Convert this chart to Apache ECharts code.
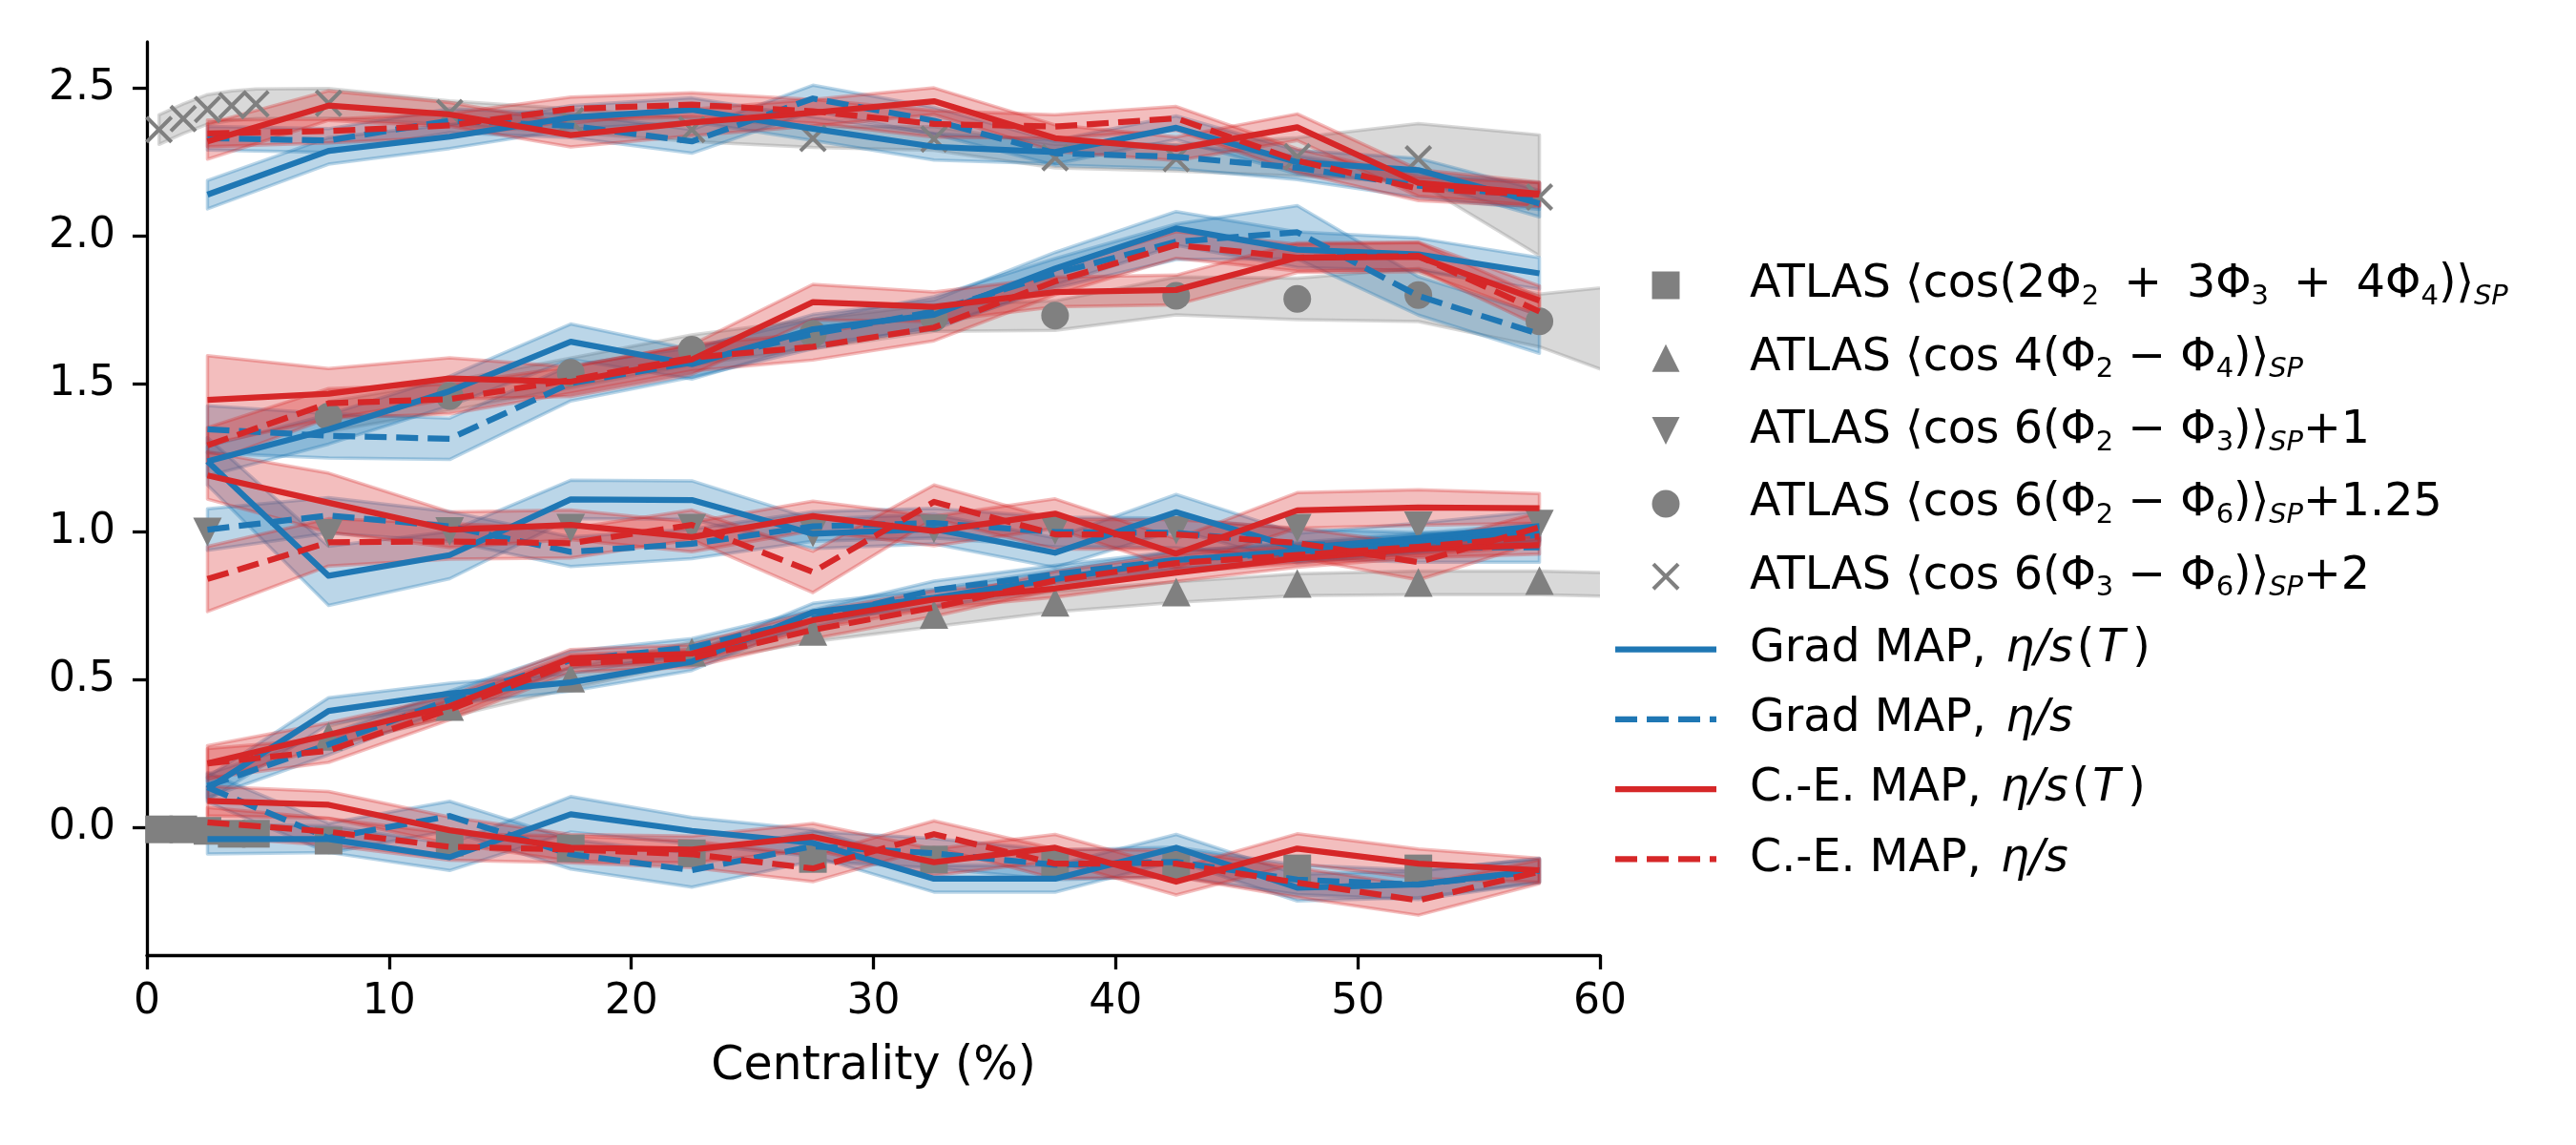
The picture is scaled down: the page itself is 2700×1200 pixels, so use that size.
<!DOCTYPE html>
<html>
<head>
<meta charset="utf-8">
<script src="https://cdn.jsdelivr.net/npm/echarts@6/dist/echarts.min.js"></script>
<style>html,body{margin:0;padding:0;background:#fff}#c{width:2700px;height:1200px}</style>
</head>
<body>
<div id="c"></div>
<script>
// ---------------- DATA ----------------
const centrality = [2.5, 7.5, 12.5, 17.5, 22.5, 27.5, 32.5, 37.5, 42.5, 47.5, 52.5, 57.5];
const xTicks = [0, 10, 20, 30, 40, 50, 60];
const yTicks = [0, 0.5, 1.0, 1.5, 2.0, 2.5];

// <cos6(Phi3-Phi6)> + 2
const gradT_36 = [2.140, 2.288, 2.336, 2.401, 2.427, 2.363, 2.302, 2.284, 2.366, 2.250, 2.223, 2.110];
const gradC_36 = [2.331, 2.323, 2.390, 2.373, 2.320, 2.465, 2.390, 2.280, 2.268, 2.231, 2.170, 2.135];
const ceT_36   = [2.320, 2.441, 2.411, 2.341, 2.384, 2.417, 2.456, 2.331, 2.295, 2.368, 2.180, 2.143];
const ceC_36   = [2.347, 2.355, 2.374, 2.430, 2.444, 2.422, 2.379, 2.370, 2.398, 2.255, 2.160, 2.140];
const gradT_36_err = [0.048, 0.045, 0.04, 0.04, 0.04, 0.04, 0.045, 0.04, 0.04, 0.04, 0.04, 0.045];
const gradC_36_err = [0.04, 0.04, 0.04, 0.04, 0.04, 0.045, 0.045, 0.04, 0.04, 0.04, 0.04, 0.045];
const ceT_36_err   = [0.06, 0.05, 0.04, 0.04, 0.045, 0.045, 0.045, 0.045, 0.04, 0.045, 0.045, 0.04];
const ceC_36_err   = [0.045, 0.04, 0.04, 0.04, 0.04, 0.04, 0.045, 0.04, 0.04, 0.04, 0.04, 0.04];

// <cos6(Phi2-Phi6)> + 1.25
const gradT_26 = [1.239, 1.347, 1.476, 1.643, 1.567, 1.685, 1.734, 1.890, 2.026, 1.954, 1.938, 1.874];
const gradC_26 = [1.347, 1.325, 1.315, 1.503, 1.573, 1.669, 1.745, 1.874, 1.981, 2.013, 1.798, 1.669];
const ceT_26   = [1.446, 1.467, 1.519, 1.508, 1.583, 1.777, 1.761, 1.811, 1.818, 1.927, 1.930, 1.782];
const ceC_26   = [1.293, 1.435, 1.449, 1.514, 1.589, 1.626, 1.691, 1.847, 1.970, 1.927, 1.933, 1.745];
const gradT_26_err = [0.05, 0.05, 0.05, 0.06, 0.05, 0.05, 0.05, 0.055, 0.057, 0.06, 0.055, 0.053];
const gradC_26_err = [0.08, 0.075, 0.07, 0.06, 0.05, 0.05, 0.05, 0.05, 0.06, 0.09, 0.065, 0.065];
const ceT_26_err   = [0.15, 0.085, 0.07, 0.05, 0.05, 0.06, 0.05, 0.05, 0.05, 0.05, 0.05, 0.05];
const ceC_26_err   = [0.06, 0.05, 0.05, 0.045, 0.045, 0.045, 0.045, 0.045, 0.045, 0.045, 0.045, 0.05];

// <cos6(Phi2-Phi3)> + 1
const gradT_23 = [1.239, 0.852, 0.922, 1.110, 1.108, 0.994, 1.010, 0.930, 1.067, 0.945, 0.980, 1.020];
const gradC_23 = [1.008, 1.056, 1.019, 0.933, 0.960, 1.019, 1.030, 1.000, 0.997, 0.960, 0.948, 0.948];
const ceT_23   = [1.191, 1.099, 1.008, 1.024, 0.983, 1.054, 1.003, 1.062, 0.927, 1.073, 1.083, 1.080];
const ceC_23   = [0.841, 0.965, 0.968, 0.962, 1.024, 0.865, 1.102, 0.992, 0.992, 0.963, 0.898, 1.016];
const gradT_23_err = [0.08, 0.1, 0.08, 0.065, 0.065, 0.05, 0.05, 0.05, 0.06, 0.05, 0.05, 0.05];
const gradC_23_err = [0.07, 0.06, 0.05, 0.05, 0.05, 0.05, 0.05, 0.05, 0.05, 0.05, 0.05, 0.05];
const ceT_23_err   = [0.08, 0.1, 0.06, 0.05, 0.05, 0.05, 0.05, 0.05, 0.05, 0.06, 0.06, 0.05];
const ceC_23_err   = [0.11, 0.08, 0.06, 0.05, 0.05, 0.07, 0.057, 0.05, 0.05, 0.05, 0.06, 0.05];

// <cos4(Phi2-Phi4)>
const gradT_24 = [0.132, 0.395, 0.454, 0.492, 0.562, 0.729, 0.777, 0.841, 0.905, 0.935, 0.965, 1.000];
const gradC_24 = [0.142, 0.282, 0.433, 0.567, 0.610, 0.707, 0.804, 0.857, 0.906, 0.930, 0.960, 0.990];
const ceT_24   = [0.218, 0.315, 0.411, 0.573, 0.589, 0.702, 0.772, 0.809, 0.863, 0.911, 0.943, 0.955];
const ceC_24   = [0.218, 0.261, 0.400, 0.556, 0.573, 0.669, 0.745, 0.836, 0.895, 0.922, 0.950, 0.985];
const gradT_24_err = [0.04, 0.045, 0.035, 0.03, 0.03, 0.03, 0.03, 0.03, 0.03, 0.03, 0.03, 0.03];
const gradC_24_err = [0.04, 0.035, 0.03, 0.03, 0.03, 0.03, 0.03, 0.03, 0.03, 0.03, 0.03, 0.03];
const ceT_24_err   = [0.06, 0.04, 0.035, 0.03, 0.03, 0.03, 0.03, 0.03, 0.03, 0.03, 0.03, 0.03];
const ceC_24_err   = [0.05, 0.04, 0.035, 0.03, 0.03, 0.03, 0.03, 0.03, 0.03, 0.03, 0.03, 0.03];

// <cos(2Phi2+3Phi3+4Phi4)>
const gradT_234 = [-0.038, -0.038, -0.099, 0.046, -0.010, -0.051, -0.172, -0.172, -0.067, -0.202, -0.191, -0.143];
const gradC_234 = [0.137, -0.034, 0.040, -0.089, -0.143, -0.062, -0.086, -0.125, -0.115, -0.175, -0.192, -0.145];
const ceT_234   = [0.091, 0.078, -0.008, -0.067, -0.073, -0.030, -0.116, -0.067, -0.182, -0.070, -0.121, -0.143];
const ceC_234   = [0.019, -0.013, -0.064, -0.073, -0.089, -0.137, -0.021, -0.121, -0.121, -0.185, -0.245, -0.148];
const gradT_234_err = [0.05, 0.045, 0.045, 0.06, 0.045, 0.045, 0.045, 0.045, 0.045, 0.045, 0.045, 0.04];
const gradC_234_err = [0.05, 0.05, 0.05, 0.05, 0.057, 0.05, 0.05, 0.05, 0.05, 0.05, 0.05, 0.04];
const ceT_234_err   = [0.05, 0.045, 0.045, 0.045, 0.045, 0.045, 0.045, 0.045, 0.045, 0.05, 0.05, 0.04];
const ceC_234_err   = [0.05, 0.045, 0.045, 0.045, 0.045, 0.045, 0.045, 0.05, 0.045, 0.05, 0.05, 0.04];

// ATLAS data
const atlasX_234 = [0.5, 1.5, 2.5, 3.5, 4.5, 7.5, 12.5, 17.5, 22.5, 27.5, 32.5, 37.5, 42.5, 47.5, 52.5];
const atlas_234  = [-0.005, -0.005, -0.01, -0.02, -0.02, -0.043, -0.05, -0.069, -0.086, -0.105, -0.107, -0.118, -0.127, -0.137, -0.137];

const atlasX_24 = [7.5, 12.5, 17.5, 22.5, 27.5, 32.5, 37.5, 42.5, 47.5, 52.5, 57.5];
const atlas_24  = [0.309, 0.410, 0.506, 0.594, 0.664, 0.721, 0.762, 0.797, 0.826, 0.829, 0.836];
const atlasBandX_24   = [7.5, 12.5, 17.5, 22.5, 27.5, 32.5, 37.5, 42.5, 47.5, 52.5, 57.5, 62.5];
const atlasBand_24    = [0.309, 0.410, 0.506, 0.594, 0.664, 0.715, 0.765, 0.797, 0.822, 0.828, 0.828, 0.818];
const atlasBandErr_24 = [0.035, 0.035, 0.035, 0.035, 0.035, 0.035, 0.035, 0.035, 0.037, 0.04, 0.04, 0.04];

const atlasX_23 = [2.5, 7.5, 12.5, 17.5, 22.5, 27.5, 32.5, 37.5, 42.5, 47.5, 52.5, 57.5];
const atlas_23  = [1.000, 0.995, 1.002, 1.013, 1.013, 0.997, 1.011, 1.005, 1.006, 1.013, 1.021, 1.027];

const atlasX_26 = [7.5, 12.5, 17.5, 22.5, 27.5, 32.5, 37.5, 42.5, 47.5, 52.5, 57.5];
const atlas_26  = [1.390, 1.460, 1.538, 1.616, 1.669, 1.723, 1.731, 1.798, 1.788, 1.801, 1.712];
const atlasBandX_26   = [7.5, 12.5, 17.5, 22.5, 27.5, 32.5, 37.5, 42.5, 47.5, 52.5, 57.5, 62.5];
const atlasBand_26    = [1.390, 1.460, 1.538, 1.616, 1.669, 1.723, 1.731, 1.798, 1.788, 1.801, 1.715, 1.661];
const atlasBandErr_26 = [0.05, 0.05, 0.05, 0.05, 0.05, 0.045, 0.05, 0.064, 0.07, 0.09, 0.089, 0.185];

const atlasX_36 = [0.5, 1.5, 2.5, 3.5, 4.5, 7.5, 12.5, 17.5, 22.5, 27.5, 32.5, 37.5, 42.5, 47.5, 52.5, 57.5];
const atlas_36  = [2.360, 2.397, 2.428, 2.441, 2.447, 2.449, 2.417, 2.390, 2.360, 2.330, 2.328, 2.265, 2.262, 2.268, 2.261, 2.132];
const atlasBand_36    = [2.360, 2.397, 2.428, 2.441, 2.447, 2.449, 2.417, 2.390, 2.360, 2.335, 2.330, 2.270, 2.265, 2.268, 2.280, 2.138];
const atlasBandErr_36 = [0.05, 0.05, 0.05, 0.05, 0.05, 0.05, 0.04, 0.04, 0.04, 0.035, 0.04, 0.04, 0.045, 0.065, 0.10, 0.204];

// Legend labels
const L_234 = 'atlas234', L_24 = 'atlas24', L_23 = 'atlas23', L_26 = 'atlas26', L_36 = 'atlas36';
const L_gradT = 'gradT', L_gradC = 'gradC', L_ceT = 'ceT', L_ceC = 'ceC';
const legendText = {
  atlas234: '{g| }{n|ATLAS ⟨cos(2Φ}{s|2}{sp| }{n|+}{sp| }{n|3Φ}{s|3}{sp| }{n|+}{sp| }{n|4Φ}{s|4}{n|)⟩}{si|SP}',
  atlas24:  '{g| }{n|ATLAS ⟨cos 4(Φ}{s|2}{n| − Φ}{s|4}{n|)⟩}{si|SP}',
  atlas23:  '{g| }{n|ATLAS ⟨cos 6(Φ}{s|2}{n| − Φ}{s|3}{n|)⟩}{si|SP}{n|+1}',
  atlas26:  '{g| }{n|ATLAS ⟨cos 6(Φ}{s|2}{n| − Φ}{s|6}{n|)⟩}{si|SP}{n|+1.25}',
  atlas36:  '{g| }{n|ATLAS ⟨cos 6(Φ}{s|3}{n| − Φ}{s|6}{n|)⟩}{si|SP}{n|+2}',
  gradT: '{g| }{n|Grad MAP,}{e|η/s}{n|(}{t|T}{n|)}',
  gradC: '{g| }{n|Grad MAP,}{e|η/s}',
  ceT:   '{g| }{n|C.-E. MAP,}{e|η/s}{n|(}{t|T}{n|)}',
  ceC:   '{g| }{n|C.-E. MAP,}{e|η/s}'
};

// ---------------- STYLE / BUILD ----------------
const BLUE = '#1f77b4', RED = '#d62728', GREY = '#808080';
const FONT = 'DejaVu Sans';
function rgba(hex, a) {
  const n = parseInt(hex.slice(1), 16);
  return 'rgba(' + (n >> 16 & 255) + ',' + (n >> 8 & 255) + ',' + (n & 255) + ',' + a + ')';
}
function band(xs, center, err, color, z) {
  const data = xs.map((x, i) => [x, center[i] - err[i], center[i] + err[i]]);
  return {
    type: 'custom', silent: true, clip: true, z: z, data: data,
    encode: { x: 0, y: [1, 2] },
    renderItem: function (params, api) {
      if (params.dataIndex !== 0) return;
      const up = data.map(d => api.coord([d[0], d[2]]));
      const lo = data.map(d => api.coord([d[0], d[1]])).reverse();
      return {
        type: 'polygon',
        shape: { points: up.concat(lo) },
        style: { fill: rgba(color, 0.3), stroke: rgba(color, 0.3), lineWidth: 3.5, lineJoin: 'round' }
      };
    }
  };
}
function line(name, ys, color, dashed) {
  return {
    type: 'line', name: name, silent: true, z: 4,
    data: centrality.map((x, i) => [x, ys[i]]),
    symbol: 'none', showSymbol: false,
    itemStyle: { color: color },
    lineStyle: { color: color, width: 6.25, type: dashed ? [23, 10] : 'solid', cap: 'butt', join: 'round' },
    emphasis: { disabled: true }
  };
}
function scatter(name, xs, ys, symbol, size) {
  return {
    type: 'scatter', name: name, silent: true, z: 3,
    data: xs.map((x, i) => [x, ys[i]]),
    symbol: symbol, symbolSize: size,
    itemStyle: { color: GREY, opacity: 1 },
    emphasis: { disabled: true }
  };
}
const SQUARE = 'path://M0,0 L100,0 L100,100 L0,100 Z';
const UP = 'path://M50,0 L100,100 L0,100 Z';
const DOWN = 'path://M0,0 L100,0 L50,100 Z';
const CROSS = 'path://M0,10 L10,0 L50,40 L90,0 L100,10 L60,50 L100,90 L90,100 L50,60 L10,100 L0,90 L40,50 Z';
const SOLID_ICON = 'path://M0,0 L106,0 L106,6.25 L0,6.25 Z';
const DASH_ICON = 'path://M0,0 L23,0 L23,6.25 L0,6.25 Z M33,0 L56,0 L56,6.25 L33,6.25 Z M66,0 L89,0 L89,6.25 L66,6.25 Z M99,0 L106,0 L106,6.25 L99,6.25 Z';

const models = [
  { name: L_gradT, color: BLUE, dashed: false, groups: [[gradT_36, gradT_36_err], [gradT_26, gradT_26_err], [gradT_23, gradT_23_err], [gradT_24, gradT_24_err], [gradT_234, gradT_234_err]] },
  { name: L_gradC, color: BLUE, dashed: true,  groups: [[gradC_36, gradC_36_err], [gradC_26, gradC_26_err], [gradC_23, gradC_23_err], [gradC_24, gradC_24_err], [gradC_234, gradC_234_err]] },
  { name: L_ceT,   color: RED,  dashed: false, groups: [[ceT_36, ceT_36_err], [ceT_26, ceT_26_err], [ceT_23, ceT_23_err], [ceT_24, ceT_24_err], [ceT_234, ceT_234_err]] },
  { name: L_ceC,   color: RED,  dashed: true,  groups: [[ceC_36, ceC_36_err], [ceC_26, ceC_26_err], [ceC_23, ceC_23_err], [ceC_24, ceC_24_err], [ceC_234, ceC_234_err]] }
];

const series = [];
// ATLAS bands
series.push(band(atlasX_36, atlasBand_36, atlasBandErr_36, GREY, 1));
series.push(band(atlasBandX_26, atlasBand_26, atlasBandErr_26, GREY, 1));
series.push(band(atlasBandX_24, atlasBand_24, atlasBandErr_24, GREY, 1));
// model bands
models.forEach(m => m.groups.forEach(g => series.push(band(centrality, g[0], g[1], m.color, 2))));
// ATLAS markers
series.push(scatter(L_234, atlasX_234, atlas_234, SQUARE, 29));
series.push(scatter(L_24, atlasX_24, atlas_24, UP, 30));
series.push(scatter(L_23, atlasX_23, atlas_23, DOWN, 30));
series.push(scatter(L_26, atlasX_26, atlas_26, 'circle', 29));
series.push(scatter(L_36, atlasX_36, atlas_36, CROSS, 29));
// model lines
models.forEach(m => m.groups.forEach(g => series.push(line(m.name, g[0], m.color, m.dashed))));

const axisCommon = {
  axisLine: { show: true, onZero: false, lineStyle: { color: '#000', width: 3.3 } },
  axisTick: { show: true, inside: false, length: 15, lineStyle: { color: '#000', width: 3.3 } },
  splitLine: { show: false },
};

const option = {
  animation: false,
  backgroundColor: '#ffffff',
  grid: { left: 154, right: 1023, top: 44, bottom: 199, containLabel: false },
  xAxis: Object.assign({}, axisCommon, {
    type: 'value', min: 0, max: 60, interval: 10,
    name: 'Centrality (%)', nameLocation: 'middle', nameGap: 93,
    nameTextStyle: { fontFamily: FONT, fontSize: 49, color: '#000' },
    axisLabel: { fontFamily: FONT, fontSize: 44, color: '#000', margin: 28,
      customValues: xTicks },
    axisTick: Object.assign({}, axisCommon.axisTick, { customValues: xTicks })
  }),
  yAxis: Object.assign({}, axisCommon, {
    type: 'value', min: -0.43, max: 2.656,
    axisLabel: { fontFamily: FONT, fontSize: 44, color: '#000', margin: 33,
      customValues: yTicks, formatter: v => v.toFixed(1) },
    axisTick: Object.assign({}, axisCommon.axisTick, { customValues: yTicks })
  }),
  legend: {
    show: true, orient: 'vertical', left: 1693, top: 275, padding: 0,
    itemWidth: 106, itemHeight: 29, itemGap: 25.3,
    selectedMode: false,
    data: [
      { name: L_234 }, { name: L_24 }, { name: L_23 }, { name: L_26 }, { name: L_36 },
      { name: L_gradT, icon: SOLID_ICON }, { name: L_gradC, icon: DASH_ICON },
      { name: L_ceT, icon: SOLID_ICON }, { name: L_ceC, icon: DASH_ICON }
    ],
    formatter: name => legendText[name],
    textStyle: {
      fontFamily: FONT, fontSize: 47.5, color: '#000',
      rich: {
        g: { width: 30, lineHeight: 54 },
        sp: { width: 26, lineHeight: 54 },
        n: { fontFamily: FONT, fontSize: 47.5, lineHeight: 54, color: '#000' },
        e: { fontFamily: FONT, fontSize: 47.5, fontStyle: 'italic', lineHeight: 54, color: '#000', padding: [0, 4, 0, 20] },
        t: { fontFamily: FONT, fontSize: 47.5, fontStyle: 'italic', lineHeight: 54, color: '#000', padding: [0, 8, 0, 3] },
        s: { fontFamily: FONT, fontSize: 29, lineHeight: 29, verticalAlign: 'bottom', color: '#000' },
        si: { fontFamily: FONT, fontSize: 29, fontStyle: 'italic', lineHeight: 29, verticalAlign: 'bottom', color: '#000' }
      }
    }
  },
  series: series
};

const chart = echarts.init(document.getElementById('c'), null, { renderer: 'canvas' });
chart.setOption(option);
</script>
</body>
</html>
